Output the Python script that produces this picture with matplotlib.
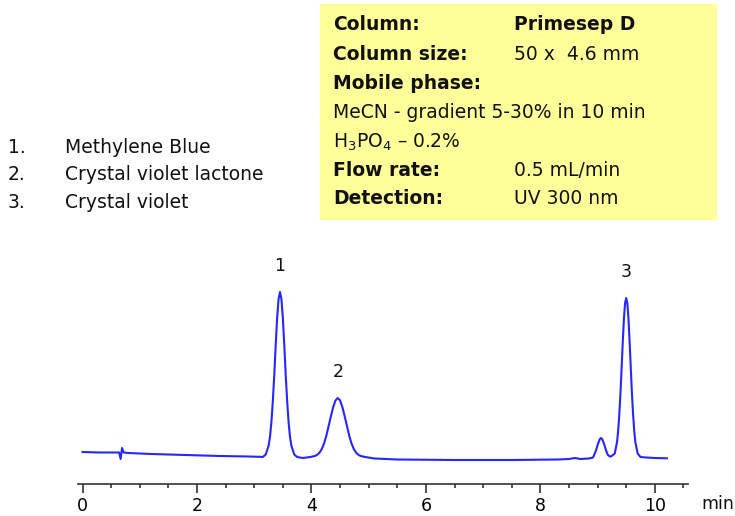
"""
Primesep D chromatogram - Methylene Blue / Crystal violet lactone / Crystal violet
"""

import numpy as np
import matplotlib
matplotlib.use("Agg")
import matplotlib.pyplot as plt
from matplotlib.patches import Rectangle
from matplotlib.ticker import MultipleLocator

plt.rcParams.update(
    {
        "font.family": ["DejaVu Sans"],
        "font.size": 13.5,
        "text.color": "#111111",
    }
)

# ── data ──
time_min = [
    0.0, 0.3, 0.64, 0.665, 0.69, 0.72, 0.8, 1.2, 1.8, 2.4, 2.9, 3.1,
    3.15, 3.2, 3.25, 3.275, 3.3, 3.325, 3.35, 3.375, 3.4, 3.425, 3.45,
    3.475, 3.5, 3.525, 3.55, 3.575, 3.6, 3.625, 3.65, 3.7, 3.75, 3.85,
    3.98, 4.02, 4.06, 4.10, 4.14, 4.18, 4.22, 4.26, 4.30, 4.34, 4.38, 4.42, 4.46,
    4.50, 4.54, 4.58, 4.62, 4.66, 4.70, 4.74, 4.78, 4.82, 4.86, 4.94,
    5.1, 5.5, 6.5, 7.5, 8.3, 8.5, 8.6, 8.7, 8.85, 8.92,
    8.94, 8.96, 8.98, 9.00, 9.02, 9.04, 9.06, 9.08, 9.10, 9.12, 9.14, 9.16, 9.18, 9.22,
    9.26, 9.30, 9.34, 9.36, 9.38, 9.40, 9.42, 9.44, 9.46, 9.48, 9.50,
    9.52, 9.54, 9.56, 9.58, 9.60, 9.62, 9.64, 9.66, 9.70,
    9.75, 9.85, 10.0, 10.21,
]
signal = [
    8, 7.5, 7.5, 1, 12, 7.5, 7, 6, 5, 4, 3.5, 3.2,
    3, 5.5, 14, 23, 38, 59, 85, 115, 142, 161, 168,
    161, 142, 115, 85, 59, 38, 23, 14, 5.5, 3, 2,
    3, 3.5, 4, 5.2, 7.3, 11, 16.5, 24.3, 34, 43.8, 53, 59.6, 62,
    59.6, 53, 43.8, 34, 24.3, 16.5, 11, 7.3, 5.2, 4, 3,
    1.5, 0.5, 0, 0, 0.5, 1, 2, 1, 1.5, 2.5,
    5, 7.8, 11, 15, 18, 21, 22, 21, 18, 15, 11, 7.8, 5, 3.3,
    4.5, 6.5, 18, 29.5, 46, 67, 92, 118, 141, 156.7, 162,
    156.7, 141, 118, 92, 67, 46, 29.5, 18, 6.5,
    3, 2.5, 2, 1.7,
]

peak_labels = ["1", "2", "3"]
peak_times = [3.45, 4.46, 9.50]
peak_heights = [168, 62, 162]

compounds = ["Methylene Blue", "Crystal violet lactone", "Crystal violet"]

cond_labels = ["Column:", "Column size:", "Mobile phase:",
               "MeCN - gradient 5-30% in 10 min", "H$_3$PO$_4$ \u2013 0.2%",
               "Flow rate:", "Detection:"]
cond_values = ["Primesep D", "50 x  4.6 mm", "", "", "", "0.5 mL/min", "UV 300 nm"]
cond_label_bold = [True, True, True, False, False, True, True]

x_ticks = [0, 2, 4, 6, 8, 10]

# ── figure ──
W, H = 735, 516
fig = plt.figure(figsize=(W / 100, H / 100), dpi=100)


def fx(px):
    return px / W


def fy(py):
    return 1 - py / H


# chromatogram axes: spine at y=484 px, x from 78 to 688 px
ax = fig.add_axes([fx(78), fy(484), fx(688 - 78), fy(250) - fy(484)])
ax.plot(time_min, signal, color="#2626ff", linewidth=1.5, solid_joinstyle="round")
ax.set_xlim(-0.08, 10.58)
ax.set_ylim(-24, 210)

for lab, t, h in zip(peak_labels, peak_times, peak_heights):
    ax.annotate(lab, xy=(t, h), xytext=(0, 19), textcoords="offset points",
                ha="center", va="center", fontsize=12.5)

for s in ["left", "top", "right"]:
    ax.spines[s].set_visible(False)
ax.spines["bottom"].set_color("#333333")
ax.spines["bottom"].set_linewidth(1.2)
ax.set_yticks([])
ax.set_xticks(x_ticks)
ax.xaxis.set_minor_locator(MultipleLocator(0.5))
ax.tick_params(axis="x", which="major", length=6.5, width=1.2, color="#333333",
               pad=3, labelsize=12.5)
ax.tick_params(axis="x", which="minor", length=3, width=1.2, color="#333333")
ax.patch.set_alpha(0)

fig.text(fx(718), fy(504), "min", ha="center", va="center", fontsize=12.5)

# compound list
for i, name in enumerate(compounds):
    y = fy(147 + 28 * i)
    fig.text(fx(8), y, f"{i + 1}.", va="center")
    fig.text(fx(65), y, name, va="center")

# conditions box
fig.patches.append(Rectangle((fx(320), fy(220)), fx(717 - 320), fy(4) - fy(220),
                             transform=fig.transFigure, facecolor="#ffff99",
                             edgecolor="none", zorder=0))
row_y = [25, 54, 83, 113, 142, 171, 198]
for lab, val, bold, py in zip(cond_labels, cond_values, cond_label_bold, row_y):
    fig.text(fx(333), fy(py), lab, va="center",
             fontweight="bold" if bold else "normal")
    if val:
        fig.text(fx(514), fy(py), val, va="center",
                 fontweight="bold" if val == "Primesep D" else "normal")

fig.savefig("out.png", dpi=100)
